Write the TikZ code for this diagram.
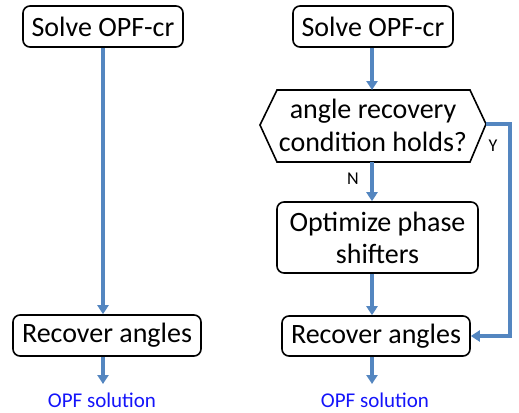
\documentclass[tikz,border=0pt]{standalone}
\usepackage{fontspec}
\setmainfont{Carlito}
\usetikzlibrary{arrows.meta}
\definecolor{arrowblue}{RGB}{84,134,192}
\definecolor{outblue}{RGB}{20,20,250}
\tikzset{
  box/.style={draw=black, line width=1.6pt, rounded corners=7pt, align=center,
    inner sep=0pt, font=\fontsize{28}{32}\selectfont},
  flow/.style={draw=arrowblue, line width=3.2pt, -{Triangle[width=11pt,length=9pt]}},
  yn/.style={font=\fontsize{18}{20}\selectfont, inner sep=0pt},
  outtext/.style={text=outblue, font=\fontsize{21}{24}\selectfont, inner sep=0pt},
}
\begin{document}
\begin{tikzpicture}[x=1pt,y=-1pt]
\useasboundingbox (0,0) rectangle (519,412);
% left flow
\node[box, minimum width=160pt, minimum height=41pt] (ls) at (103,26.5) {Solve OPF-cr};
\node[box, minimum width=188pt, minimum height=41pt] (lr) at (107,335.5) {Recover angles};
\node[outtext] (lo) at (102,400) {OPF solution};
\draw[flow] (ls.south) -- (ls.south |- lr.north);
\coordinate (lend) at (103,384);
\draw[flow] (lr.south -| lend) -- (lend);
% right flow
\node[box, minimum width=160pt, minimum height=41pt] (rs) at (373,26.5) {Solve OPF-cr};
\coordinate (hl) at (260,125);
\coordinate (htl) at (277,90);
\coordinate (htr) at (470,90);
\coordinate (hr) at (486,124);
\coordinate (hbr) at (470,162);
\coordinate (hbl) at (277,162);
\draw[line width=1.6pt, line join=miter] (hl) -- (htl) -- (htr) -- (hr) -- (hbr) -- (hbl) -- cycle;
\node[align=center, inner sep=0pt, font=\fontsize{28}{33}\selectfont] (hx) at (373,125) {angle recovery\\condition holds?};
\coordinate (htop) at (372,90);
\coordinate (hbot) at (372,162);
\node[box, minimum width=201pt, minimum height=71pt] (opt) at (377.5,237.5) {Optimize phase\\shifters};
\node[box, minimum width=188pt, minimum height=40pt] (rr) at (376,336) {Recover angles};
\node[outtext] (ro) at (375,400) {OPF solution};
\draw[flow] (rs.south -| htop) -- (htop);
\draw[flow] (hbot) -- (hbot |- opt.north);
\draw[flow] (opt.south -| hbot) -- (hbot |- rr.north);
\coordinate (rend) at (372,384);
\draw[flow] (rr.south -| rend) -- (rend);
\coordinate (ycorner) at (510,124);
\draw[flow] (hr) -- (ycorner) -- (ycorner |- rr.east) -- (rr.east);
\node[yn] (ylab) at (493,146) {Y};
\node[yn] (nlab) at (353,179) {N};
\end{tikzpicture}
\end{document}
